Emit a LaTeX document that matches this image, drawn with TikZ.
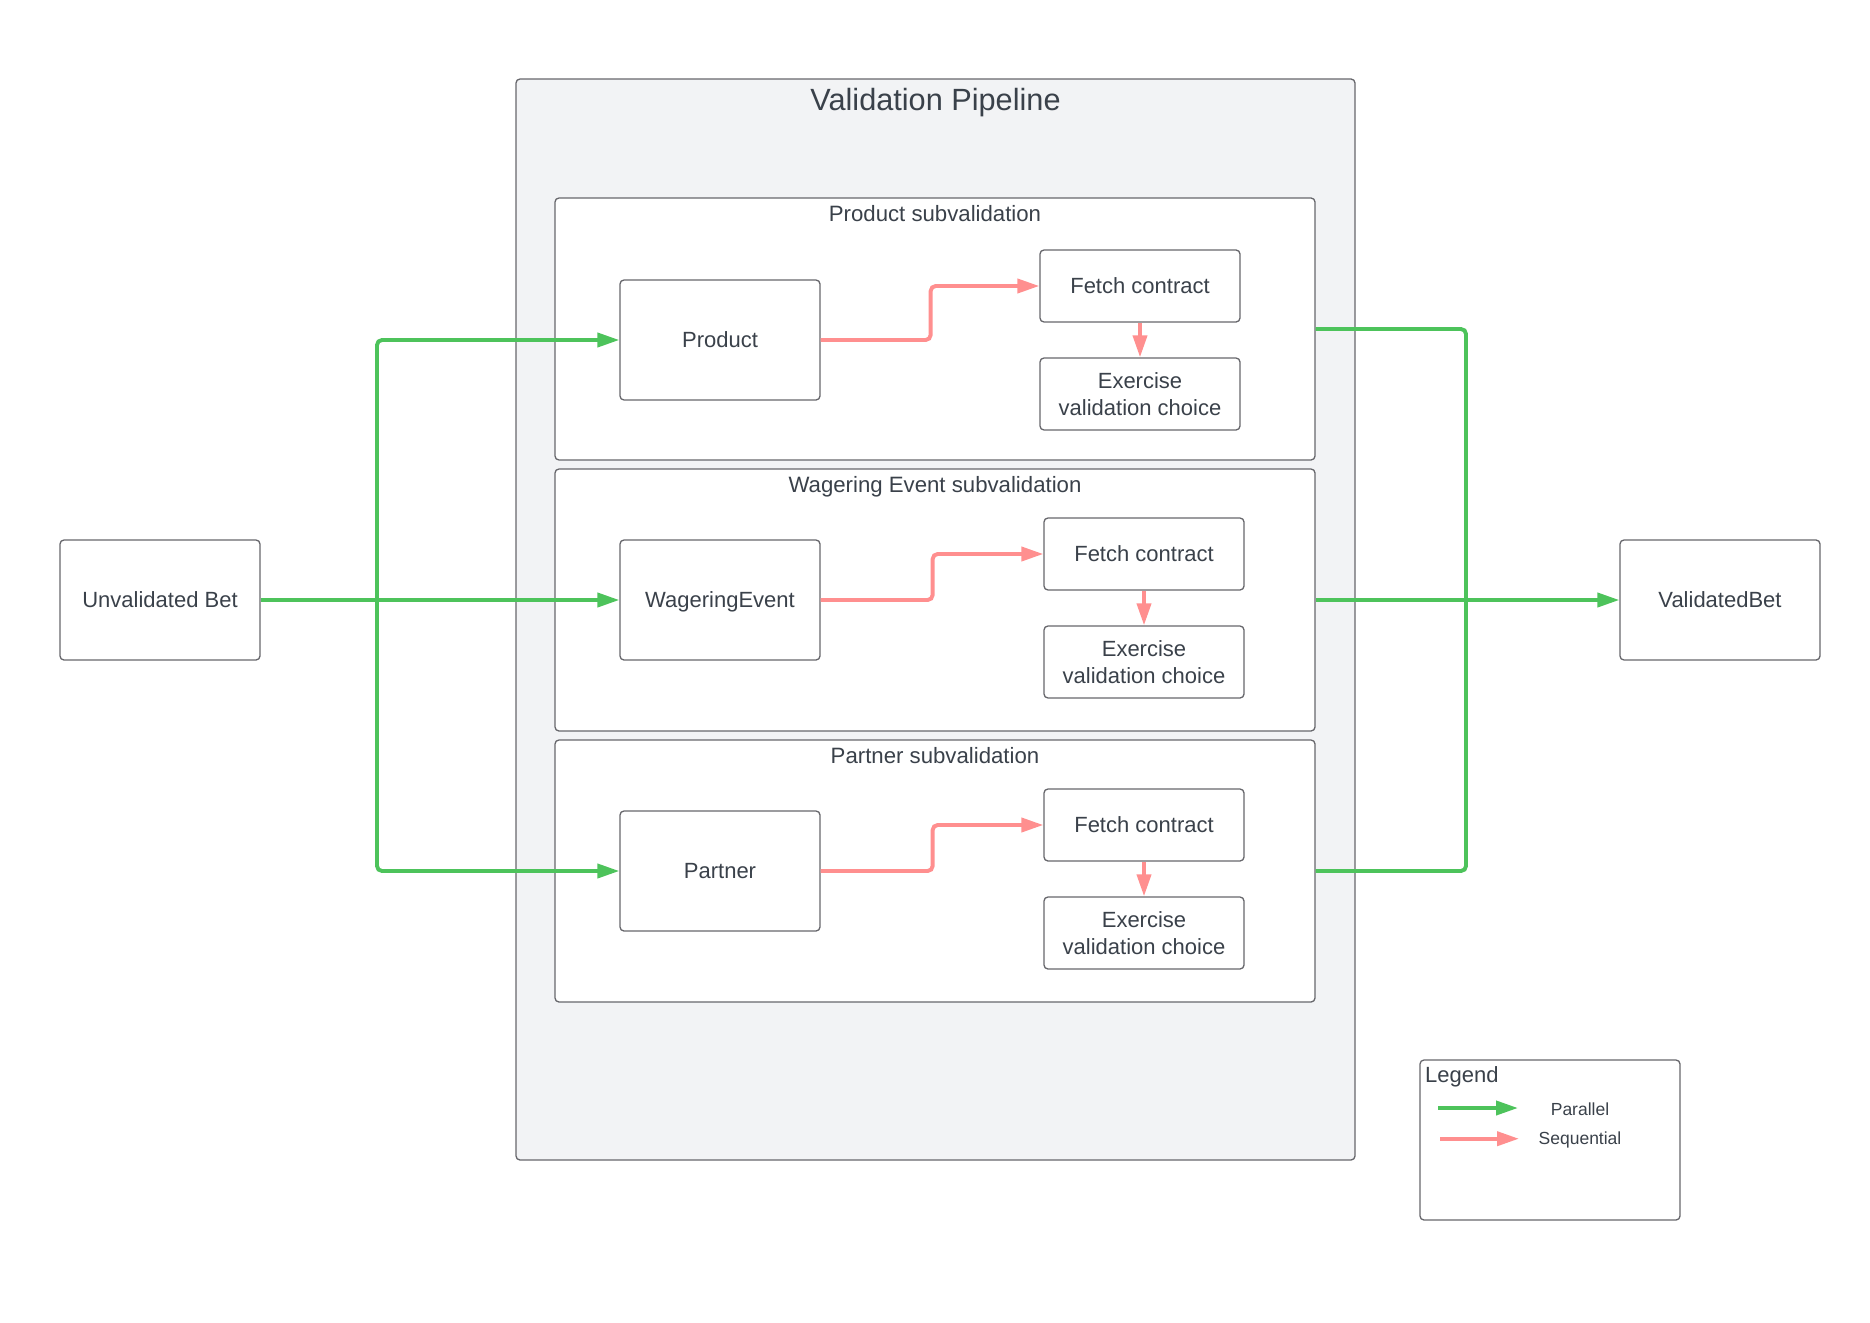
\documentclass[tikz,border=0pt]{standalone}
\usepackage{fontspec}
\setmainfont{Liberation Sans}
\usetikzlibrary{arrows.meta,calc}
\definecolor{txt}{HTML}{3A414A}
\definecolor{bord}{HTML}{67676C}
\definecolor{pgreen}{HTML}{4DC35B}
\definecolor{sred}{HTML}{FF8F8F}
\definecolor{cfill}{HTML}{F2F3F5}
\begin{document}
\begin{tikzpicture}[x=1pt,y=-1pt,
  frame/.style={draw=bord,line width=1.3pt,rounded corners=4pt,inner sep=0pt},
  box/.style={frame,fill=white,text=txt,font=\fontsize{22}{26.5}\selectfont,align=center},
  bignode/.style={box,minimum width=200pt,minimum height=120pt,text depth=0pt},
  fetchnode/.style={box,minimum width=200pt,minimum height=72pt,text depth=0pt},
  exnode/.style={box,minimum width=200pt,minimum height=72pt},
  subbox/.style={frame,fill=white,minimum width=760pt,minimum height=262pt},
  subtitle/.style={anchor=base,text=txt,font=\fontsize{22.2}{26}\selectfont,inner sep=0pt},
  tip/.style={-{Triangle[length=22pt,width=14pt]}},
  par/.style={draw=pgreen,line width=3.9pt,rounded corners=5pt},
  seq/.style={draw=sred,line width=3.9pt,rounded corners=5pt},
  legtext/.style={text=txt,font=\fontsize{17.5}{21}\selectfont,inner sep=0pt}
]
\useasboundingbox (0,0) rectangle (1870,1322);
\fill[white] (0,0) rectangle (1870,1322);

% container
\node[frame,fill=cfill,minimum width=839pt,minimum height=1081pt] (pipe) at (935.5,619.5) {};
\node[anchor=base,text=txt,font=\fontsize{30.7}{36}\selectfont,inner sep=0pt] (pipetitle) at (935.5,110.5) {Validation Pipeline};

% sub boxes
\node[subbox] (psub) at (935,329) {};
\node[subtitle] (psubt) at (935,221.3) {Product subvalidation};
\node[subbox] (wsub) at (935,600) {};
\node[subtitle] (wsubt) at (935,492.4) {Wagering Event subvalidation};
\node[subbox] (rsub) at (935,871) {};
\node[subtitle] (rsubt) at (935,763.3) {Partner subvalidation};

% nodes
\node[bignode] (ub) at (160,600) {Unvalidated Bet};
\node[bignode] (vb) at (1720,600) {ValidatedBet};
\node[bignode] (prod) at (720,340) {Product};
\node[bignode] (wag) at (720,600) {WageringEvent};
\node[bignode] (part) at (720,871) {Partner};

\node[fetchnode] (fc1) at (1140,286) {Fetch contract};
\node[exnode] (ex1) at (1140,394) {Exercise\\validation choice};
\node[fetchnode] (fc2) at (1144,554) {Fetch contract};
\node[exnode] (ex2) at (1144,662) {Exercise\\validation choice};
\node[fetchnode] (fc3) at (1144,825) {Fetch contract};
\node[exnode] (ex3) at (1144,933) {Exercise\\validation choice};

% green connectors (left)
\coordinate (gl) at (377,600);
\draw[par,tip] (ub.east) -- (wag.west);
\draw[par,tip] (gl) |- (prod.west);
\draw[par,tip] (gl) |- (part.west);

% green connectors (right)
\coordinate (gr) at (1466,600);
\draw[par,tip] (wsub.east) -- (vb.west);
\draw[par] (psub.east) -| (gr);
\draw[par] (rsub.east) -| (gr);

% red connectors
\draw[seq,tip] (prod.east) -- ++(110,0) |- (fc1.west);
\draw[seq,tip] (fc1.south) -- (ex1.north);
\draw[seq,tip] (wag.east) -- ++(112,0) |- (fc2.west);
\draw[seq,tip] (fc2.south) -- (ex2.north);
\draw[seq,tip] (part.east) -- ++(112,0) |- (fc3.west);
\draw[seq,tip] (fc3.south) -- (ex3.north);

% legend
\node[frame,fill=white,minimum width=260pt,minimum height=160pt] (legend) at (1550,1140) {};
\node[anchor=base west,text=txt,font=\fontsize{22}{26}\selectfont,inner sep=0pt] (legt) at (1425,1082.6) {Legend};
\coordinate (lg1) at (1438,1108);
\coordinate (lg2) at (1518,1108);
\coordinate (lr1) at (1440,1138.7);
\coordinate (lr2) at (1519,1138.7);
\draw[par,tip] (lg1) -- (lg2);
\draw[seq,tip] (lr1) -- (lr2);
\node[legtext,anchor=base] (lpar) at (1580,1115.5) {Parallel};
\node[legtext,anchor=base] (lseq) at (1580,1144.6) {Sequential};
\end{tikzpicture}
\end{document}
